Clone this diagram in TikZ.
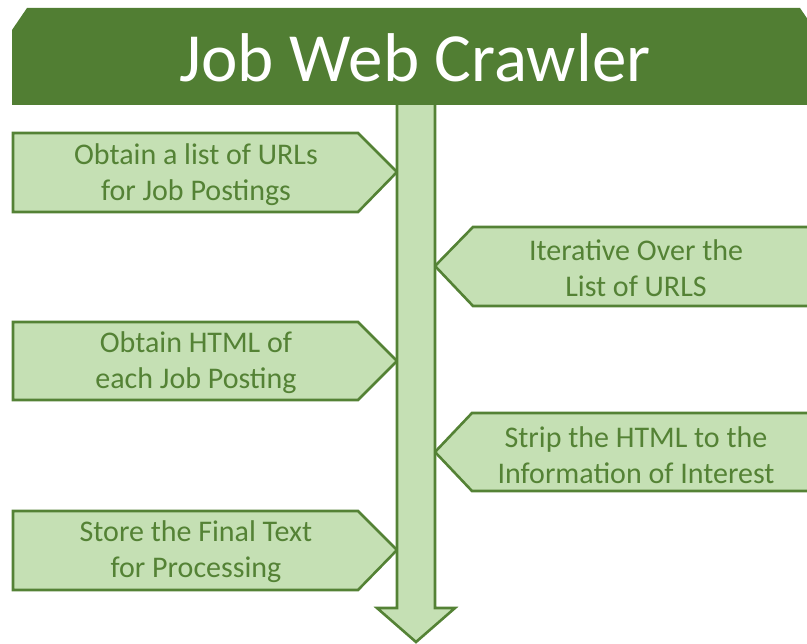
\documentclass[tikz,border=0pt]{standalone}
\usepackage{fontspec}
\setmainfont{Carlito}
\definecolor{hdrgreen}{HTML}{517E33}
\definecolor{edgegreen}{HTML}{548235}
\definecolor{boxfill}{HTML}{C5E0B4}
\definecolor{txtgreen}{HTML}{548235}
\begin{document}
\begin{tikzpicture}[x=1pt,y=-1pt,
  stepshape/.style={fill=boxfill, draw=edgegreen, line width=2.6pt, line join=miter},
  steptext/.style={text=txtgreen, font=\fontsize{30}{36}\selectfont, align=center, inner sep=0pt}]
\useasboundingbox (0,0) rectangle (807,644);
\clip (0,0) rectangle (807,644);

% left-pointing and right-pointing step shapes
\draw[stepshape] (13,133) -- (358,133) -- (397,172) -- (358,212) -- (13,212) -- cycle;
\draw[stepshape] (13,322) -- (358,322) -- (397,361) -- (358,400) -- (13,400) -- cycle;
\draw[stepshape] (13,511) -- (358,511) -- (397,550) -- (358,590) -- (13,590) -- cycle;
\draw[stepshape] (435,266) -- (473,227) -- (815,227) -- (815,306) -- (473,306) -- cycle;
\draw[stepshape] (435,452) -- (472,413) -- (815,413) -- (815,491) -- (472,491) -- cycle;

% central downward arrow
\draw[stepshape] (397,100) -- (397,608) -- (377,608) -- (416,642) -- (455,608) -- (435,608) -- (435,100) -- cycle;

% title banner
\fill[hdrgreen] (12,30) -- (27,8) -- (800,8) -- (815,30) -- (815,105) -- (12,105) -- cycle;
\node[text=white, font=\fontsize{69}{82}\selectfont, anchor=base, inner sep=0pt] (title) at (415,82) {Job Web Crawler};

% step labels
\node[steptext] (urls)    at (196,175) {Obtain a list of URLs\\for Job Postings};
\node[steptext] (iterate) at (636,268) {Iterative Over the\\List of URLS};
\node[steptext] (html)    at (196,363) {Obtain HTML of\\each Job Posting};
\node[steptext] (strip)   at (636,455) {Strip the HTML to the\\Information of Interest};
\node[steptext] (store)   at (196,552) {Store the Final Text\\for Processing};
\end{tikzpicture}
\end{document}
